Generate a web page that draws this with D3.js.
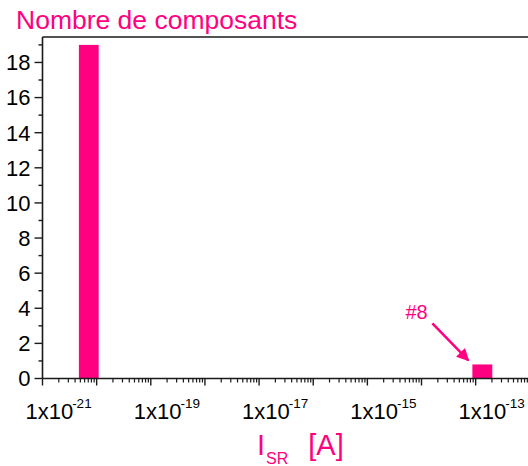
<!DOCTYPE html>
<html>
<head>
<meta charset="utf-8">
<script src="https://cdn.jsdelivr.net/npm/d3@7"></script>
<style>
  html, body { margin: 0; padding: 0; background: #fff; }
  svg { display: block; font-family: "Liberation Sans", Arial, Helvetica, sans-serif; }
</style>
</head>
<body>
<svg id="chart" width="528" height="466"></svg>
<script>
// ---- data ----
const binLow   = [4.7e-22, 8.7e-15];
const binHigh  = [1.09e-21, 2.03e-14];
const counts   = [19, 0.8];
const yTicks   = [0, 2, 4, 6, 8, 10, 12, 14, 16, 18];
const yMinor   = [1, 3, 5, 7, 9, 11, 13, 15, 17, 19];
const xLabelExp = [-21, -19, -17, -15, -13];
const annotation = { text: "#8", bin: 1 };
const titleText = "Nombre de composants";

const pink = "#ff0080";
const axisColor = "#1a1a1a";

const svg = d3.select("#chart");
const W = 528, H = 466;
const mLeft = 42.5, mTop = 37, mBottom = 378.5;

const x = d3.scaleLog().domain([1e-22, 1e-13]).range([mLeft, 529.8]);
const y = d3.scaleLinear().domain([0, 19.45]).range([mBottom, mTop]);

// bars
svg.append("g").selectAll("rect").data(counts).join("rect")
  .attr("x", (d, i) => x(binLow[i]))
  .attr("width", (d, i) => x(binHigh[i]) - x(binLow[i]))
  .attr("y", d => y(d))
  .attr("height", d => y(0) - y(d))
  .attr("fill", pink);

// top frame
svg.append("line")
  .attr("x1", mLeft).attr("x2", W).attr("y1", mTop).attr("y2", mTop)
  .attr("stroke", axisColor).attr("stroke-width", 1.6);

// y axis
const yAxis = svg.append("g").attr("transform", `translate(${mLeft},0)`);
yAxis.append("line").attr("x1", 0).attr("x2", 0).attr("y1", mTop).attr("y2", mBottom)
  .attr("stroke", axisColor).attr("stroke-width", 1.6);
yAxis.selectAll(".maj").data(yTicks).join("line")
  .attr("x1", -8).attr("x2", 0).attr("y1", d => y(d)).attr("y2", d => y(d))
  .attr("stroke", axisColor).attr("stroke-width", 1.4);
yAxis.selectAll(".min").data(yMinor).join("line")
  .attr("x1", -4).attr("x2", 0).attr("y1", d => y(d)).attr("y2", d => y(d))
  .attr("stroke", axisColor).attr("stroke-width", 1.4);
yAxis.selectAll("text").data(yTicks).join("text")
  .attr("x", -12).attr("y", d => y(d)).attr("dy", "0.36em")
  .attr("text-anchor", "end").attr("font-size", 22).attr("fill", "#000")
  .text(d => d);

// x axis
const xAxis = svg.append("g").attr("transform", `translate(0,${mBottom})`);
xAxis.append("line").attr("x1", mLeft).attr("x2", W).attr("y1", 0).attr("y2", 0)
  .attr("stroke", axisColor).attr("stroke-width", 1.6);
const allTicks = x.ticks();
const majors = allTicks.filter(t => Math.abs(Math.log10(t) - Math.round(Math.log10(t))) < 1e-6);
const minors = allTicks.filter(t => !majors.includes(t));
xAxis.selectAll(".xmaj").data(majors).join("line")
  .attr("x1", d => x(d)).attr("x2", d => x(d)).attr("y1", 0).attr("y2", 7)
  .attr("stroke", axisColor).attr("stroke-width", 1.4);
xAxis.selectAll(".xmin").data(minors).join("line")
  .attr("x1", d => x(d)).attr("x2", d => x(d)).attr("y1", 0).attr("y2", 4)
  .attr("stroke", axisColor).attr("stroke-width", 1.2);
const xl = xAxis.selectAll(".xl").data(xLabelExp).join("text")
  .attr("x", d => x(Math.pow(10, d)) - 5).attr("y", 40)
  .attr("text-anchor", "end").attr("font-size", 22).attr("fill", "#000");
xl.append("tspan").text("1x10");
xl.append("tspan").attr("font-size", 13.5).attr("dy", -11).attr("dx", -1).text(d => String(d));

// title
svg.append("text").attr("x", 16).attr("y", 29)
  .attr("font-size", 26.5).attr("fill", pink).text(titleText);

// x axis title
const xt = svg.append("text").attr("x", 257).attr("y", 455).attr("fill", pink).attr("font-size", 29);
xt.append("tspan").text("I");
xt.append("tspan").attr("font-size", 16).attr("dy", 9).attr("dx", 1).text("SR");
xt.append("tspan").attr("dy", -9).attr("dx", 20).text("[A]");

// annotation
const defs = svg.append("defs");
defs.append("marker").attr("id", "ah").attr("viewBox", "0 0 10 10")
  .attr("refX", 9).attr("refY", 5).attr("markerWidth", 6).attr("markerHeight", 5)
  .attr("orient", "auto").attr("markerUnits", "strokeWidth")
  .append("path").attr("d", "M0,0 L10,5 L0,10 Z").attr("fill", pink);
const bx = x(binLow[annotation.bin]);
const by = y(counts[annotation.bin]);
svg.append("line")
  .attr("x1", bx - 40).attr("y1", by - 41)
  .attr("x2", bx - 4).attr("y2", by - 4)
  .attr("stroke", pink).attr("stroke-width", 2.5)
  .attr("marker-end", "url(#ah)");
svg.append("text").attr("x", bx - 67).attr("y", by - 45)
  .attr("font-size", 20).attr("fill", pink).text(annotation.text);
</script>
</body>
</html>
